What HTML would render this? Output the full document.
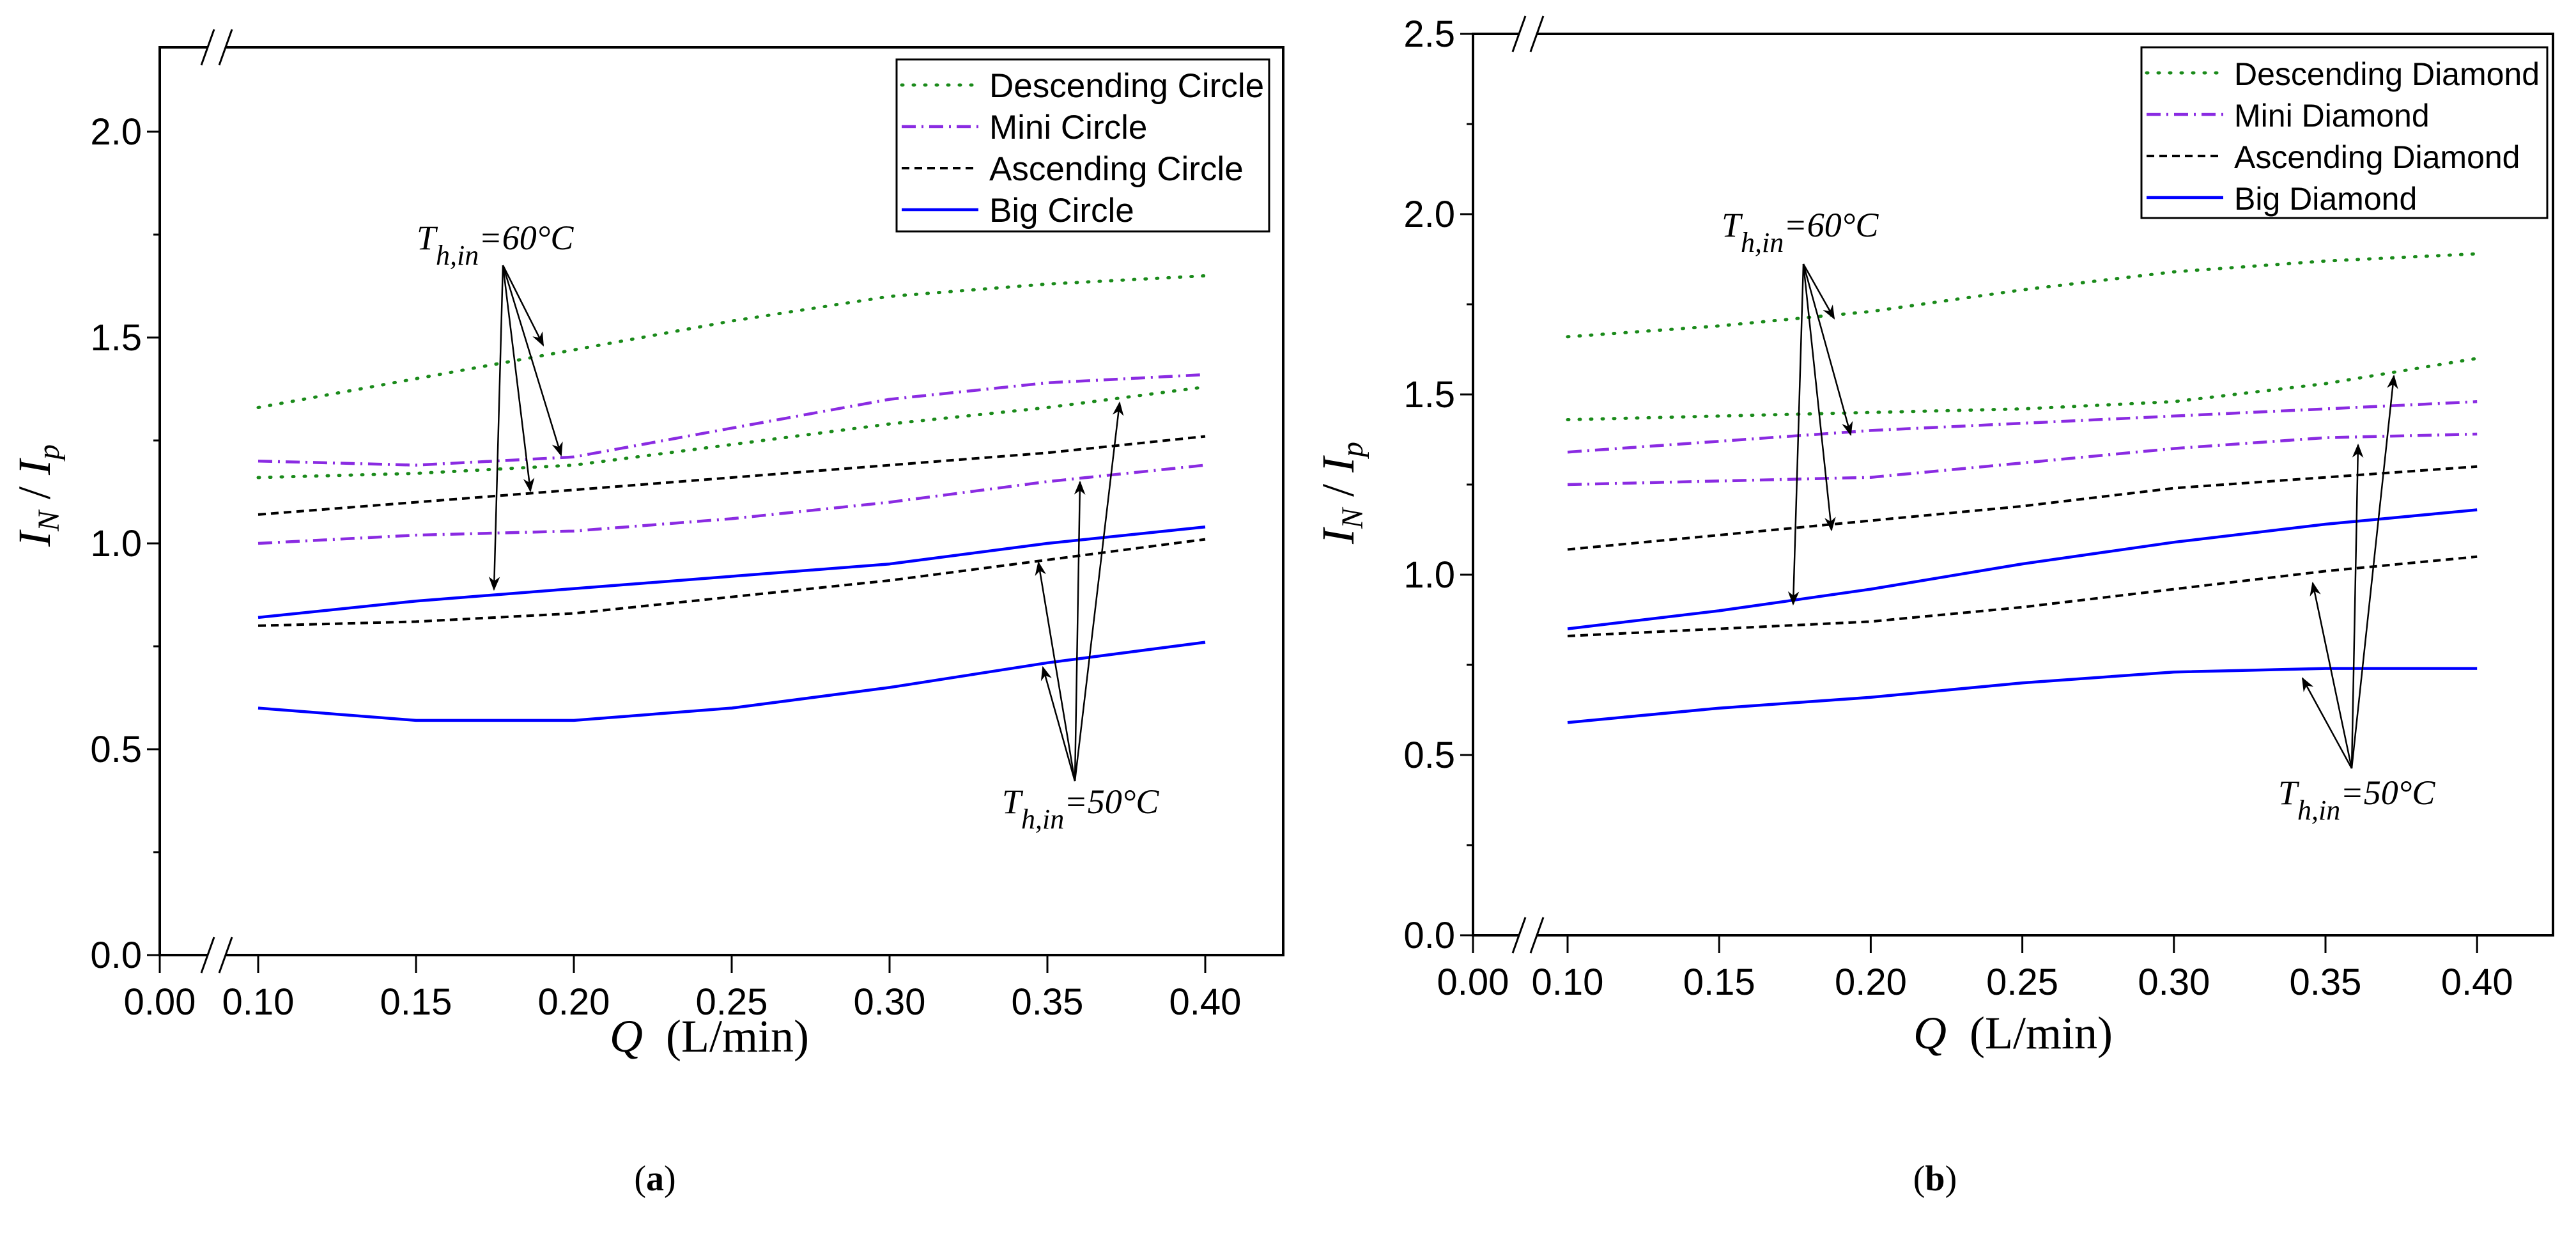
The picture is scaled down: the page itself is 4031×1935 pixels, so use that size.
<!DOCTYPE html>
<html><head><meta charset="utf-8"><style>
html,body{margin:0;padding:0;background:#fff;}
svg{display:block;}
text{font-family:"Liberation Sans",Arial,sans-serif;}
.serif{font-family:"Liberation Serif","Times New Roman",serif;}
</style></head><body>
<svg id="fig" xmlns="http://www.w3.org/2000/svg" width="4031" height="1935" viewBox="0 0 4031 1935">
<defs>
<marker id="ahb" viewBox="0 0 10 10" refX="9" refY="5" markerWidth="22" markerHeight="22" orient="auto" markerUnits="userSpaceOnUse">
<path d="M0,1 L10,5 L0,9 L3,5 z" fill="#000"/>
</marker>
</defs>
</svg>
<script>
// shared data
const xCats = [0.10, 0.15, 0.20, 0.25, 0.30, 0.35, 0.40];
const xTickVals = [0.00, 0.10, 0.15, 0.20, 0.25, 0.30, 0.35, 0.40];
const xTickLabels = ["0.00","0.10","0.15","0.20","0.25","0.30","0.35","0.40"];
// chart a
const aDesc60 = [1.33, 1.40, 1.47, 1.54, 1.60, 1.63, 1.65];
const aMini60 = [1.20, 1.19, 1.21, 1.28, 1.35, 1.39, 1.41];
const aDesc50 = [1.16, 1.17, 1.19, 1.24, 1.29, 1.33, 1.38];
const aAsc60  = [1.07, 1.10, 1.13, 1.16, 1.19, 1.22, 1.26];
const aMini50 = [1.00, 1.02, 1.03, 1.06, 1.10, 1.15, 1.19];
const aBig60  = [0.82, 0.86, 0.89, 0.92, 0.95, 1.00, 1.04];
const aAsc50  = [0.80, 0.81, 0.83, 0.87, 0.91, 0.96, 1.01];
const aBig50  = [0.60, 0.57, 0.57, 0.60, 0.65, 0.71, 0.76];
const aYTicks = [0.0, 0.5, 1.0, 1.5, 2.0];
const aYTickLabels = ["0.0","0.5","1.0","1.5","2.0"];
const aLegend = ["Descending Circle","Mini Circle","Ascending Circle","Big Circle"];
// chart b
const bDesc60 = [1.66, 1.69, 1.73, 1.79, 1.84, 1.87, 1.89];
const bDesc50 = [1.43, 1.44, 1.45, 1.46, 1.48, 1.53, 1.60];
const bMini60 = [1.34, 1.37, 1.40, 1.42, 1.44, 1.46, 1.48];
const bMini50 = [1.25, 1.26, 1.27, 1.31, 1.35, 1.38, 1.39];
const bAsc60  = [1.07, 1.11, 1.15, 1.19, 1.24, 1.27, 1.30];
const bBig60  = [0.85, 0.90, 0.96, 1.03, 1.09, 1.14, 1.18];
const bAsc50  = [0.83, 0.85, 0.87, 0.91, 0.96, 1.01, 1.05];
const bBig50  = [0.59, 0.63, 0.66, 0.70, 0.73, 0.74, 0.74];
const bYTicks = [0.0, 0.5, 1.0, 1.5, 2.0, 2.5];
const bYTickLabels = ["0.0","0.5","1.0","1.5","2.0","2.5"];
const bLegend = ["Descending Diamond","Mini Diamond","Ascending Diamond","Big Diamond"];

const NS = "http://www.w3.org/2000/svg";
const svg = document.getElementById('fig');
function mk(tag, attrs, parent, txt){
  const e = document.createElementNS(NS, tag);
  for (const k in attrs) e.setAttribute(k, attrs[k]);
  if (txt !== undefined) e.textContent = txt;
  (parent || svg).appendChild(e);
  return e;
}
const styles = {
  desc: {stroke:"#1a8a1a", dash:"2 16", cap:"round", w:5},
  mini: {stroke:"#8a2be2", dash:"22 9 3 9", cap:"butt", w:4.5},
  asc:  {stroke:"#000", dash:"12 8", cap:"butt", w:4},
  big:  {stroke:"#0000ff", dash:"", cap:"butt", w:4.5}
};

function drawChart(cfg){
  const g = mk('g', {});
  
  
  const X = v => v < 0.05 ? cfg.x0 : cfg.x10 + (v - 0.10) / 0.05 * cfg.dx;
  const Y = v => cfg.yb - v / 0.5 * cfg.dy;
  const fr = mk('rect', {x:cfg.left, y:cfg.top, width:cfg.right-cfg.left, height:cfg.yb-cfg.top, fill:'none', stroke:'#000', 'stroke-width':4}, g);
  
  
  [cfg.top, cfg.yb].forEach(yy => {
    mk('rect', {x:cfg.brk-14, y:yy-5, width:28, height:10, fill:'#fff'}, g);
    [-14, 14].forEach(o => {
      const l = mk('line', {x1:cfg.brk+o-10, y1:yy+28, x2:cfg.brk+o+10, y2:yy-28, stroke:'#000', 'stroke-width':3}, g);
      
      
    });
  });
  cfg.yTicks.forEach((v, i) => {
    const y = Y(v);
    mk('line', {x1:cfg.left, y1:y, x2:cfg.left-20, y2:y, stroke:'#000', 'stroke-width':3}, g);
    const t = mk('text', {x:cfg.left-28, y:y+20, 'font-size':58, 'text-anchor':'end'}, g, cfg.yTickLabels[i]);
    
    
    const ym = Y(v + 0.25);
    if (ym > cfg.top) mk('line', {x1:cfg.left, y1:ym, x2:cfg.left-10, y2:ym, stroke:'#000', 'stroke-width':3}, g);
  });
  xTickVals.forEach((v, i) => {
    const x = X(v);
    mk('line', {x1:x, y1:cfg.yb, x2:x, y2:cfg.yb+28, stroke:'#000', 'stroke-width':3}, g);
    const t = mk('text', {x:x, y:cfg.yb+93, 'font-size':58, 'text-anchor':'middle'}, g, xTickLabels[i]);
    
    
  });
  cfg.series.forEach(s => {
    const st = styles[s.kind];
    const d = s.vals.map((v, i) => (i ? 'L' : 'M') + X(xCats[i]).toFixed(1) + ',' + Y(v).toFixed(1)).join(' ');
    const p = mk('path', {d:d, fill:'none', stroke:st.stroke, 'stroke-width':st.w, 'stroke-dasharray':st.dash, 'stroke-linecap':st.cap, 'stroke-linejoin':'round'}, g);
    
    
  });
  const lg = mk('g', {}, g);
  
  
  mk('rect', {x:cfg.lg[0], y:cfg.lg[1], width:cfg.lg[2], height:cfg.lg[3], fill:'#fff', stroke:'#000', 'stroke-width':3}, lg);
  ['desc','mini','asc','big'].forEach((k, i) => {
    const st = styles[k];
    const yy = cfg.lg[1] + 40 + i * 65;
    mk('line', {x1:cfg.lg[0]+8, y1:yy, x2:cfg.lg[0]+128, y2:yy, stroke:st.stroke, 'stroke-width':st.w, 'stroke-dasharray':st.dash, 'stroke-linecap':st.cap}, lg);
    const t = mk('text', {x:cfg.lg[0]+145, y:yy+19, 'font-size':cfg.lgFont}, lg, cfg.legend[i]);
    
    
  });
  const xt = mk('text', {x:cfg.xTitle[0], y:cfg.xTitle[1], 'font-size':72, 'text-anchor':'middle', class:'serif'}, g);
  
  
  mk('tspan', {'font-style':'italic'}, xt, 'Q');
  mk('tspan', {}, xt, '\u00a0 (L/min)');
  const yt = mk('text', {x:0, y:0, 'font-size':72, 'text-anchor':'middle', class:'serif', transform:`translate(${cfg.yTitle[0]},${cfg.yTitle[1]}) rotate(-90)`}, g);
  
  
  mk('tspan', {'font-style':'italic'}, yt, 'I');
  mk('tspan', {'font-style':'italic', 'font-size':48, dy:14}, yt, 'N');
  mk('tspan', {dy:-14}, yt, ' / ');
  mk('tspan', {'font-style':'italic'}, yt, 'I');
  mk('tspan', {'font-style':'italic', 'font-size':48, dy:14}, yt, 'p');
  cfg.ann.forEach(a => {
    const ag = mk('g', {}, g);
    
    
    const t = mk('text', {x:a.tx, y:a.ty, 'font-size':54, class:'serif', 'font-style':'italic'}, ag);
    mk('tspan', {}, t, 'T');
    mk('tspan', {'font-size':44, dy:24}, t, 'h,in');
    mk('tspan', {dy:-24}, t, '=' + a.label + '\u00b0C');
    a.targets.forEach(tg => {
      mk('line', {x1:a.ox, y1:a.oy, x2:tg[0], y2:tg[1], stroke:'#000', 'stroke-width':2.5, 'marker-end':'url(#ahb)'}, ag);
    });
  });
  const cap = mk('text', {x:cfg.cap[0], y:cfg.cap[1], 'font-size':56, 'text-anchor':'middle', class:'serif'}, g);
  
  
  mk('tspan', {}, cap, '(');
  mk('tspan', {'font-weight':'bold'}, cap, cfg.capText);
  mk('tspan', {}, cap, ')');
}

drawChart({
  name:'chart-a', left:250, right:2008, top:74, yb:1494, x0:250, x10:404, dx:247, dy:322, brk:339,
  yTicks:aYTicks, yTickLabels:aYTickLabels, legend:aLegend, lgFont:53,
  lg:[1403,93,583,269],
  xTitle:[1110,1645], yTitle:[78,775], cap:[1025,1862], capText:'a',
  series:[
    {kind:'desc', vals:aDesc60, name:'descending-circle-60'},
    {kind:'desc', vals:aDesc50, name:'descending-circle-50'},
    {kind:'mini', vals:aMini60, name:'mini-circle-60'},
    {kind:'mini', vals:aMini50, name:'mini-circle-50'},
    {kind:'asc', vals:aAsc60, name:'ascending-circle-60'},
    {kind:'asc', vals:aAsc50, name:'ascending-circle-50'},
    {kind:'big', vals:aBig60, name:'big-circle-60'},
    {kind:'big', vals:aBig50, name:'big-circle-50'}
  ],
  ann:[
    {label:'60', tx:652, ty:390, ox:787, oy:415, targets:[[850,540],[878,712],[830,768],[773,922]]},
    {label:'50', tx:1568, ty:1272, ox:1682, oy:1222, targets:[[1625,880],[1632,1044],[1690,754],[1752,630]]}
  ]
});
drawChart({
  name:'chart-b', left:2305, right:3995, top:53, yb:1463, x0:2305, x10:2453, dx:237.2, dy:282, brk:2391,
  yTicks:bYTicks, yTickLabels:bYTickLabels, legend:bLegend, lgFont:50,
  lg:[3351,74,635,267],
  xTitle:[3150,1640], yTitle:[2118,771], cap:[3028,1862], capText:'b',
  series:[
    {kind:'desc', vals:bDesc60, name:'descending-diamond-60'},
    {kind:'desc', vals:bDesc50, name:'descending-diamond-50'},
    {kind:'mini', vals:bMini60, name:'mini-diamond-60'},
    {kind:'mini', vals:bMini50, name:'mini-diamond-50'},
    {kind:'asc', vals:bAsc60, name:'ascending-diamond-60'},
    {kind:'asc', vals:bAsc50, name:'ascending-diamond-50'},
    {kind:'big', vals:bBig60, name:'big-diamond-60'},
    {kind:'big', vals:bBig50, name:'big-diamond-50'}
  ],
  ann:[
    {label:'60', tx:2694, ty:370, ox:2822, oy:413, targets:[[2870,498],[2896,680],[2866,829],[2806,945]]},
    {label:'50', tx:3565, ty:1258, ox:3680, oy:1202, targets:[[3603,1061],[3619,912],[3690,696],[3746,588]]}
  ]
});
</script>
</body></html>
